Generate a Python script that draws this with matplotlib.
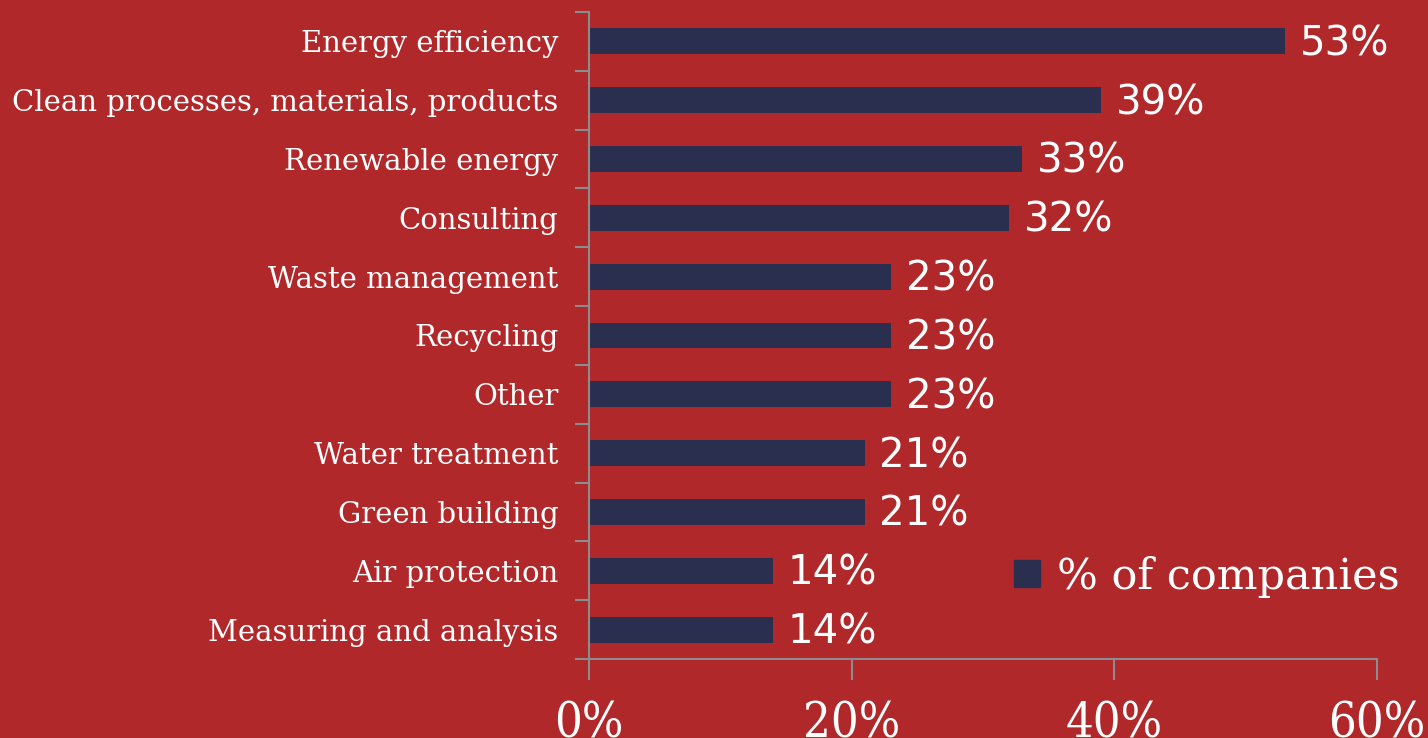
import matplotlib
matplotlib.use("Agg")
import matplotlib.pyplot as plt
from matplotlib.patches import Patch

categories = ["Energy efficiency", "Clean processes, materials, products", "Renewable energy",
              "Consulting", "Waste management", "Recycling", "Other", "Water treatment",
              "Green building", "Air protection", "Measuring and analysis"]
values = [53, 39, 33, 32, 23, 23, 23, 21, 21, 14, 14]
xticks = [0, 20, 40, 60]
xtick_labels = ["0%", "20%", "40%", "60%"]
series_name = "% of companies"

BG = "#B0282A"
BAR = "#2B2F4F"
AX = "#8C8C8C"

fig = plt.figure(figsize=(14.28, 7.38), dpi=100, facecolor=BG)
ax = fig.add_axes([589/1428, 1 - 659/738, (1377-589)/1428, (659-12)/738])
ax.set_facecolor(BG)

n = len(categories)
ypos = list(range(n))
ax.barh(ypos, values, height=0.44, color=BAR, label=series_name, zorder=2)
ax.set_ylim(n - 0.5, -0.5)
ax.set_xlim(0, 60)

for y, v in zip(ypos, values):
    ax.text(v + 1.1, y + 0.05, f"{v}%", va="center", ha="left", color="white",
            fontsize=29, family="DejaVu Sans")

ax.set_yticks([i - 0.5 for i in range(n + 1)])
ax.set_yticklabels([])
ax.set_yticks(ypos, minor=True)
ax.set_yticklabels(categories, minor=True)
ax.tick_params(axis="y", which="major", length=10, color=AX, width=1.5, direction="out")
ax.tick_params(axis="y", which="minor", length=0, pad=22, labelcolor="white", labelsize=21)
for t in ax.get_yticklabels(minor=True):
    t.set_family("DejaVu Serif")

ax.set_xticks(xticks)
ax.set_xticklabels(xtick_labels)
ax.tick_params(axis="x", length=15, color=AX, width=1.5, pad=15, labelcolor="white", labelsize=35)
for t in ax.get_xticklabels():
    t.set_family("DejaVu Serif")
    t.set_fontstretch("condensed")

for s in ["top", "right"]:
    ax.spines[s].set_visible(False)
for s in ["left", "bottom"]:
    ax.spines[s].set_color(AX)
    ax.spines[s].set_linewidth(1.5)

leg = fig.legend(handles=[Patch(color=BAR, label=series_name)], loc="center left",
                 bbox_to_anchor=(1014/1428, 1 - 577/738), frameon=False, borderpad=0,
                 borderaxespad=0,
                 prop={"family": "DejaVu Serif", "size": 31},
                 handlelength=0.6, handleheight=0.6, handletextpad=0.4, labelcolor="white")

fig.savefig("out.png", dpi=100, facecolor=BG)
